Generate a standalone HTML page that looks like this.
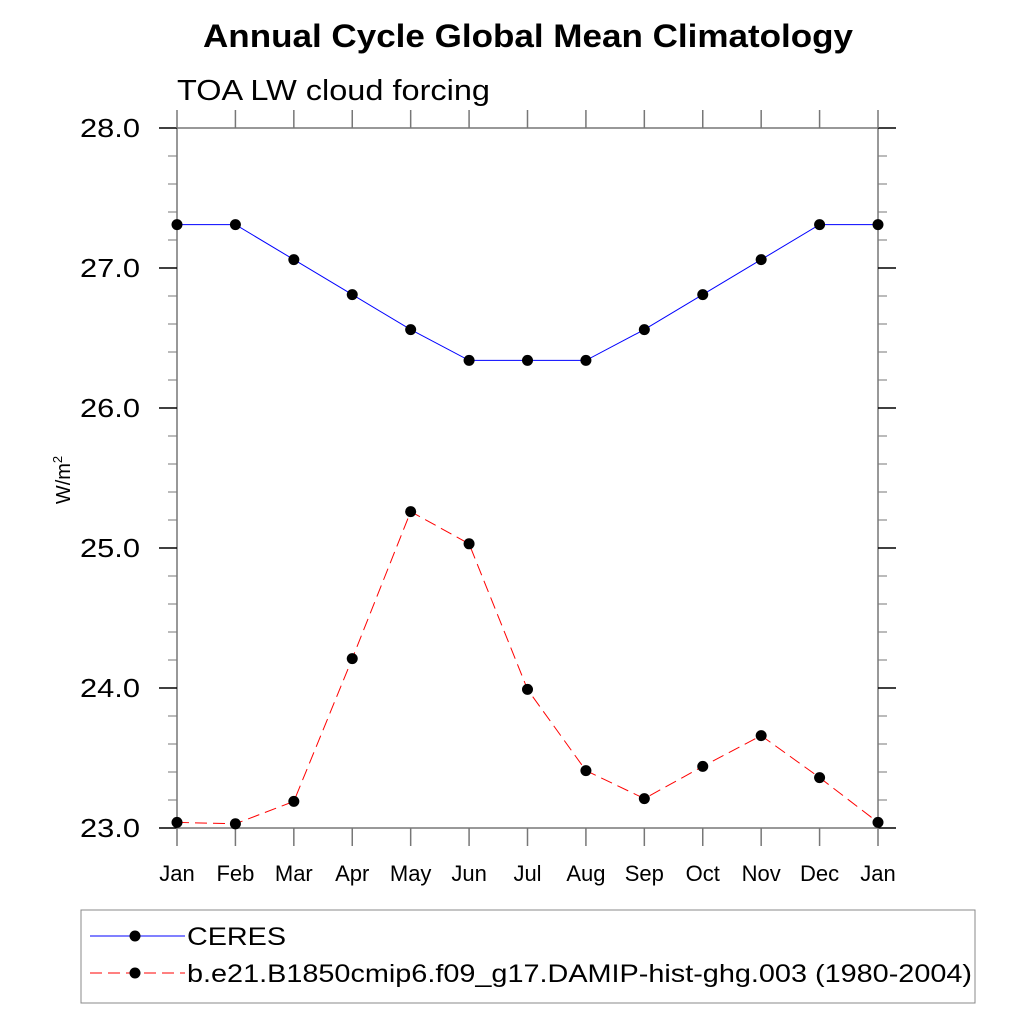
<!DOCTYPE html>
<html><head><meta charset="utf-8"><style>
body{margin:0;background:#fff}
svg text{font-family:"Liberation Sans",sans-serif}
</style></head><body>
<svg width="1024" height="1024" xmlns="http://www.w3.org/2000/svg">
<text x="203" y="47" font-size="32" font-weight="bold" textLength="650" lengthAdjust="spacingAndGlyphs">Annual Cycle Global Mean Climatology</text>
<text x="177" y="100" font-size="29" textLength="313" lengthAdjust="spacingAndGlyphs">TOA LW cloud forcing</text>
<text transform="translate(70,480) rotate(-90)" font-size="20" text-anchor="middle">W/m<tspan font-size="13" dy="-8">2</tspan></text>
<g id="axes"></g>
<g id="series"></g>
<rect x="81" y="910" width="894" height="93" fill="none" stroke="#888" stroke-width="1"/>
<g>
<line x1="90" y1="936" x2="185" y2="936" stroke="#0000ff" stroke-width="1"/>
<circle cx="135" cy="936" r="5.5" fill="#000"/>
<text x="187" y="945" font-size="25" textLength="99" lengthAdjust="spacingAndGlyphs">CERES</text>
</g>
<g>
<line x1="90" y1="973" x2="185" y2="973" stroke="#ff0000" stroke-width="1" stroke-dasharray="12,6"/>
<circle cx="135" cy="973" r="5.5" fill="#000"/>
<text x="187" y="982" font-size="25" textLength="785" lengthAdjust="spacingAndGlyphs">b.e21.B1850cmip6.f09_g17.DAMIP-hist-ghg.003 (1980-2004)</text>
</g>
</svg>
<script>
const months=["Jan","Feb","Mar","Apr","May","Jun","Jul","Aug","Sep","Oct","Nov","Dec","Jan"];
const ceres=[27.31,27.31,27.06,26.81,26.56,26.34,26.34,26.34,26.56,26.81,27.06,27.31,27.31];
const model=[23.04,23.03,23.19,24.21,25.26,25.03,23.99,23.41,23.21,23.44,23.66,23.36,23.04];
const yTicks=[23,24,25,26,27,28];
const NS="http://www.w3.org/2000/svg";
const X0=177,X1=878,Y0=828,Y1=128,ymin=23,ymax=28;
const xs=i=>X0+(X1-X0)*i/12;
const ys=v=>Y0-(v-ymin)/(ymax-ymin)*(Y0-Y1);
function mk(t,a,p){const e=document.createElementNS(NS,t);for(const k in a)e.setAttribute(k,a[k]);p.appendChild(e);return e;}
const ax=document.getElementById('axes');
const frame=mk('rect',{x:X0,y:Y1,width:X1-X0,height:Y0-Y1,fill:'none',stroke:'#777','stroke-width':1.5},ax);


for(let v=ymin;v<=ymax+1e-9;v+=0.2){const y=ys(v);const major=Math.abs(v-Math.round(v))<1e-6;const L=major?18:9;const c=major?'#000':'#777';
mk('line',{x1:X0,y1:y,x2:X0-L,y2:y,stroke:c,'stroke-width':major?1.5:1},ax);mk('line',{x1:X1,y1:y,x2:X1+L,y2:y,stroke:c,'stroke-width':major?1.5:1},ax);}
yTicks.forEach(v=>{const t=mk('text',{x:80,y:ys(v)+9,'font-size':26,textLength:60,lengthAdjust:'spacingAndGlyphs'},ax);t.textContent=v.toFixed(1);

});
months.forEach((m,i)=>{const x=xs(i);mk('line',{x1:x,y1:Y0,x2:x,y2:Y0+18,stroke:'#777','stroke-width':1.5},ax);mk('line',{x1:x,y1:Y1,x2:x,y2:Y1-18,stroke:'#777','stroke-width':1.5},ax);
const t=mk('text',{x:x,y:881,'font-size':22,'text-anchor':'middle'},ax);t.textContent=m;

});
const sg=document.getElementById('series');
function draw(vals,color,dash,name){
const g=mk('g',{},sg);


const a={points:vals.map((v,i)=>xs(i)+','+ys(v)).join(' '),fill:'none',stroke:color,'stroke-width':1};if(dash)a['stroke-dasharray']=dash;
mk('polyline',a,g);
vals.forEach((v,i)=>{const c=mk('circle',{cx:xs(i),cy:ys(v),r:5.5,fill:'#000'},g);

});}
draw(ceres,'#0000ff',null,'ceres-series');
draw(model,'#ff0000','12,6','model-series');
</script>
</body></html>
